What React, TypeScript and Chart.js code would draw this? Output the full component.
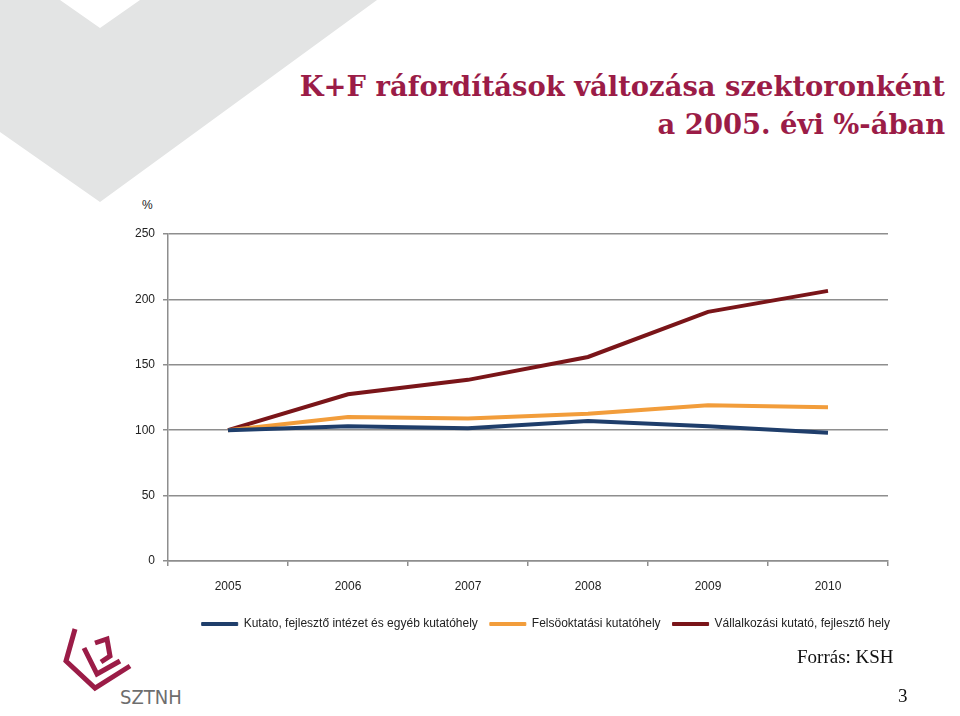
import React, { useEffect, useLayoutEffect, useRef, useState } from 'react';
import { Chart, registerables } from 'chart.js';

Chart.register(...registerables);

const years = ['2005', '2006', '2007', '2008', '2009', '2010'];
const kutatoIntezet = [100, 103, 101.5, 107, 103, 98];
const felsooktatas = [100, 110, 109, 112.5, 119, 117.5];
const vallalkozasi = [100, 127.5, 138.5, 156, 190.5, 206.5];
const seriesNames = [
  'Kutato, fejlesztő intézet és egyéb kutatóhely',
  'Felsöoktatási kutatóhely',
  'Vállalkozási kutató, fejlesztő hely',
];
const yTicks = [0, 50, 100, 150, 200, 250];

const BLUE = '#1F3E6B';
const ORANGE = '#F29D3B';
const RED = '#7A1519';
const GRID = '#8E8E8E';
const CRIMSON = '#9B1C47';
const SANS = '"Liberation Sans", Arial, sans-serif';
const NARROW = '"Liberation Sans Narrow", "Liberation Sans", Arial, sans-serif';

const legendShift = {
  id: 'legendShift',
  afterLayout(chart: any) {
    if (chart.legend) {
      chart.legend.left += 14;
      chart.legend.right += 14;
    }
  },
};

export default function App() {
  const canvasRef = useRef<HTMLCanvasElement | null>(null);
  const line1Ref = useRef<HTMLSpanElement | null>(null);
  const [scale, setScale] = useState(1);

  useLayoutEffect(() => {
    if (line1Ref.current) {
      const w = line1Ref.current.getBoundingClientRect().width;
      if (w > 0) setScale(645 / w);
    }
  }, []);

  useEffect(() => {
    const canvas = canvasRef.current;
    if (!canvas) return;
    const chart = new Chart(canvas, {
      type: 'line',
      data: {
        labels: years,
        datasets: [
          { label: seriesNames[0], data: kutatoIntezet, borderColor: BLUE, backgroundColor: BLUE, borderWidth: 4, pointRadius: 0, tension: 0 },
          { label: seriesNames[1], data: felsooktatas, borderColor: ORANGE, backgroundColor: ORANGE, borderWidth: 4, pointRadius: 0, tension: 0 },
          { label: seriesNames[2], data: vallalkozasi, borderColor: RED, backgroundColor: RED, borderWidth: 4, pointRadius: 0, tension: 0 },
        ],
      },
      plugins: [legendShift],
      options: {
        responsive: false,
        animation: false,
        layout: { padding: { left: 100, right: 72, top: 234, bottom: 76 } },
        plugins: {
          tooltip: { enabled: false },
          legend: {
            position: 'bottom',
            align: 'end',
            labels: {
              boxWidth: 36,
              boxHeight: 3,
              padding: 12,
              color: '#222',
              font: { family: NARROW, size: 12 },
              generateLabels: (c: any) =>
                Chart.defaults.plugins.legend.labels.generateLabels(c).map((l: any) => ({ ...l, lineWidth: 1 })),
            },
          },
        },
        scales: {
          x: {
            offset: true,
            grid: { offset: true, drawOnChartArea: false, drawTicks: true, tickLength: 5, color: GRID, lineWidth: 1.5 },
            border: { display: true, color: GRID, width: 1.5 },
            ticks: { color: '#222', font: { family: SANS, size: 12 }, padding: 13, maxRotation: 0 },
            afterFit: (s: any) => { s.height = 45; },
          },
          y: {
            min: 0,
            max: 250,
            afterBuildTicks: (s: any) => { s.ticks = yTicks.map((v) => ({ value: v })); },
            ticks: { color: '#222', font: { family: SANS, size: 12 }, padding: 8 },
            grid: { color: GRID, lineWidth: 1.5, tickLength: 5 },
            border: { display: true, color: GRID, width: 1.5 },
            afterFit: (s: any) => { s.width = 68; },
          },
        },
      },
    } as any);
    return () => chart.destroy();
  }, []);

  const titleStyle: React.CSSProperties = {
    position: 'absolute',
    right: 15,
    fontFamily: '"DejaVu Serif", serif',
    fontWeight: 'bold',
    fontSize: 28,
    lineHeight: '28px',
    color: CRIMSON,
    whiteSpace: 'nowrap',
    transformOrigin: 'right center',
    transform: `scaleX(${scale})`,
  };

  return (
    <div style={{ position: 'absolute', left: 0, top: 0, width: 960, height: 716, background: '#fff', overflow: 'hidden' }}>
      <svg width={960} height={716} style={{ position: 'absolute', left: 0, top: 0 }}>
        <polygon points="0,0 60,0 100,28 140,0 377,0 100,202 0,132" fill="#E3E4E4" />
        <g fill="none" stroke={CRIMSON} strokeWidth={5} strokeLinejoin="miter">
          <polyline points="75,629 66,661 95,688 130,666" />
          <polyline points="84,648 97,674 120,661" />
          <polyline points="95,643 107,639 110,656 101,662" />
        </g>
        <text x={120} y={704} fontFamily={'"DejaVu Sans Condensed", "DejaVu Sans", sans-serif'} fontSize={20} fill="#6E6E6E">SZTNH</text>
      </svg>
      <div style={{ ...titleStyle, top: 73 }}>
        <span ref={line1Ref}>K+F ráfordítások változása szektoronként</span>
      </div>
      <div style={{ ...titleStyle, top: 111 }}>a 2005. évi %-ában</div>
      <div style={{ position: 'absolute', left: 142, top: 198, fontFamily: SANS, fontSize: 12, color: '#222' }}>%</div>
      <canvas ref={canvasRef} width={960} height={716} style={{ position: 'absolute', left: 0, top: 0, width: 960, height: 716 }} />
      <div style={{ position: 'absolute', left: 797, top: 646, fontFamily: '"Liberation Serif", serif', fontSize: 19, color: '#111' }}>Forrás: KSH</div>
      <div style={{ position: 'absolute', left: 898, top: 685, fontFamily: '"Liberation Serif", serif', fontSize: 19, color: '#111' }}>3</div>
    </div>
  );
}
